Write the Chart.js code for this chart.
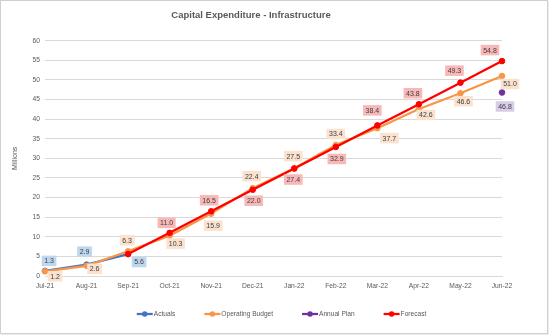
<!DOCTYPE html>
<html>
<head>
<meta charset="utf-8">
<script src="https://cdn.jsdelivr.net/npm/chart.js@4.4.0/dist/chart.umd.min.js"></script>
<style>
  body { margin: 0; background: #fff; }
</style>
</head>
<body>
<canvas id="capexChart" width="550" height="336"></canvas>
<script>
const months = ["Jul-21", "Aug-21", "Sep-21", "Oct-21", "Nov-21", "Dec-21",
    "Jan-22", "Feb-22", "Mar-22", "Apr-22", "May-22", "Jun-22"];
const actuals = [1.3, 2.9, 5.6, null, null, null, null, null, null, null, null, null];
const operatingBudget = [1.2, 2.6, 6.3, 10.3, 15.9, 22.4, 27.5, 33.4, 37.7, 42.6, 46.6, 51.0];
const annualPlan = [null, null, null, null, null, null, null, null, null, null, null, 46.8];
const forecast = [null, null, 5.6, 11.0, 16.5, 22.0, 27.4, 32.9, 38.4, 43.8, 49.3, 54.8];

// where each value box sits relative to its point (dx, dy in px)
const actualsLabelPos = [[4, -10], [-2, -13], [11, 8]];
const budgetLabelPos = [[10, 5], [8, 3], [-1, -11], [6, 8], [2, 12], [-1, -12],
    [-1, -12], [0, -11], [12, 10], [7, 6], [3, 8], [8, 8]];
const planLabelPos = [null, null, null, null, null, null, null, null, null, null, null, [3, 14]];
const forecastLabelPos = [null, null, null, [-3, -10], [-2, -11], [1, 11],
    [-1, 11], [1, 12], [-5, -15], [-6, -11], [-6, -12], [-12, -11]];

const FONT = '"Liberation Sans", Arial, sans-serif';
const GREY = '#595959';

const frame = {
    id: 'frame',
    beforeDraw(chart) {
        const ctx = chart.ctx;
        ctx.save();
        ctx.fillStyle = '#fff';
        ctx.fillRect(0, 0, chart.width, chart.height);
        ctx.strokeStyle = '#d0d0d0';
        ctx.lineWidth = 1;
        ctx.strokeRect(0.5, 0.5, 547, 333);
        ctx.strokeStyle = '#ececec';
        ctx.beginPath();
        ctx.moveTo(1, 334.5); ctx.lineTo(549, 334.5);
        ctx.moveTo(548.5, 1); ctx.lineTo(548.5, 335);
        ctx.stroke();
        ctx.restore();
    }
};

const valueBoxes = {
    id: 'valueBoxes',
    afterDatasetsDraw(chart) {
        const ctx = chart.ctx;
        ctx.save();
        ctx.font = '7px ' + FONT;
        ctx.textAlign = 'center';
        ctx.textBaseline = 'middle';
        chart.data.datasets.forEach((ds, i) => {
            const meta = chart.getDatasetMeta(i);
            meta.data.forEach((pt, j) => {
                const off = ds.labelPos[j];
                if (!off || ds.data[j] == null) return;
                const text = ds.data[j].toFixed(1);
                const x = pt.x + off[0];
                const y = pt.y + off[1];
                const w = ctx.measureText(text).width + 5;
                const h = 10.5;
                ctx.fillStyle = ds.labelColor;
                ctx.fillRect(x - w / 2, y - h / 2, w, h);
                ctx.fillStyle = '#404040';
                ctx.fillText(text, x, y + 0.5);
            });
        });
        ctx.restore();
    }
};

const bottomLegend = {
    id: 'bottomLegend',
    afterDraw(chart) {
        const ctx = chart.ctx;
        ctx.save();
        ctx.font = '6.6px ' + FONT;
        const items = chart.data.datasets.map(ds => ({
            text: ds.label,
            color: ds.borderColor,
            w: 17 + ctx.measureText(ds.label).width
        }));
        const gap = 29;
        const total = items.reduce((s, it) => s + it.w, 0) + gap * (items.length - 1);
        let x = 281.5 - total / 2;
        const y = 314;
        items.forEach(it => {
            ctx.strokeStyle = it.color;
            ctx.lineWidth = 2.25;
            ctx.beginPath();
            ctx.moveTo(x, y);
            ctx.lineTo(x + 16, y);
            ctx.stroke();
            ctx.fillStyle = it.color;
            ctx.beginPath();
            ctx.arc(x + 8, y, 2.7, 0, Math.PI * 2);
            ctx.fill();
            ctx.fillStyle = GREY;
            ctx.textAlign = 'left';
            ctx.textBaseline = 'middle';
            ctx.fillText(it.text, x + 17, y);
            x += it.w + gap;
        });
        ctx.restore();
    }
};

function lineSet(label, data, color, order, labelPos, labelColor) {
    return {
        label: label,
        data: data,
        borderColor: color,
        backgroundColor: color,
        pointBackgroundColor: color,
        pointBorderColor: color,
        borderWidth: 2.25,
        pointRadius: 2.8,
        pointBorderWidth: 1,
        tension: 0,
        order: order,
        labelPos: labelPos,
        labelColor: labelColor
    };
}

const ctx = document.getElementById('capexChart').getContext('2d');
new Chart(ctx, {
    type: 'line',
    data: {
        labels: months,
        datasets: [
            lineSet('Actuals', actuals, '#4472C4', 2, actualsLabelPos, '#BDD7EE'),
            lineSet('Operating Budget', operatingBudget, '#F79646', 1, budgetLabelPos, '#FBE2CF'),
            lineSet('Annual Plan', annualPlan, '#7030A0', 3, planLabelPos, '#D9CCE8'),
            lineSet('Forecast', forecast, '#FF0000', 0, forecastLabelPos, '#F8B8B8')
        ]
    },
    options: {
        responsive: false,
        animation: false,
        layout: { padding: { top: 0, right: 48, bottom: 40, left: 0 } },
        plugins: {
            legend: { display: false },
            tooltip: { enabled: false },
            title: {
                display: true,
                text: 'Capital Expenditure - Infrastructure',
                color: GREY,
                font: { family: FONT, size: 9.5, weight: 'bold' },
                padding: { top: 10, bottom: 19.3 }
            }
        },
        scales: {
            x: {
                offset: false,
                grid: { display: false, drawTicks: false },
                border: { display: true, color: '#d9d9d9', width: 1 },
                ticks: {
                    color: GREY,
                    font: { family: FONT, size: 6.7 },
                    padding: 6,
                    maxRotation: 0,
                    autoSkip: false
                },
                afterFit(scale) { scale.height = 20; }
            },
            y: {
                min: 0,
                max: 60,
                ticks: {
                    stepSize: 5,
                    color: GREY,
                    font: { family: FONT, size: 6.7 },
                    padding: 5
                },
                grid: { color: '#d9d9d9', drawTicks: false },
                border: { display: false },
                title: {
                    display: true,
                    text: 'Millions',
                    color: GREY,
                    font: { family: FONT, size: 7 },
                    padding: { top: 11, bottom: 0 }
                },
                afterFit(scale) { scale.width = 45; }
            }
        }
    },
    plugins: [frame, valueBoxes, bottomLegend]
});
</script>
</body>
</html>
